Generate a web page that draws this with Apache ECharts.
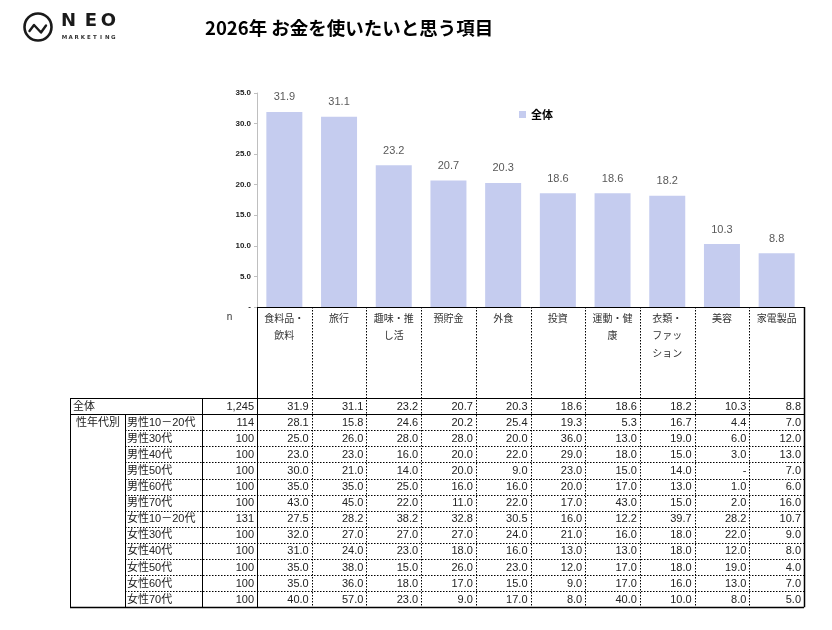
<!DOCTYPE html>
<html>
<head>
<meta charset="utf-8">
<script src="https://cdn.jsdelivr.net/npm/echarts@6/dist/echarts.min.js"></script>
<style>
html,body{margin:0;padding:0;background:#fff;}
#main{width:832px;height:630px;}
</style>
</head>
<body>
<div id="main"></div>
<script>
// ---- data ----
var titleText = '2026年 お金を使いたいと思う項目';
var seriesName = '全体';
var categories = ['食料品・飲料','旅行','趣味・推し活','預貯金','外食','投資','運動・健康','衣類・ファッション','美容','家電製品'];
var categoryLabels = ['食料品・\n飲料','旅行','趣味・推\nし活','預貯金','外食','投資','運動・健\n康','衣類・\nファッ\nション','美容','家電製品'];
var overallValues = [31.9,31.1,23.2,20.7,20.3,18.6,18.6,18.2,10.3,8.8];
var overallN = '1,245';
var yTicks = [0,5,10,15,20,25,30,35];
var groupLabel = '性年代別';
var rowLabels = ['男性10－20代','男性30代','男性40代','男性50代','男性60代','男性70代','女性10－20代','女性30代','女性40代','女性50代','女性60代','女性70代'];
var rowN = [114,100,100,100,100,100,131,100,100,100,100,100];
var m1020 = [28.1,15.8,24.6,20.2,25.4,19.3,5.3,16.7,4.4,7.0];
var m30 = [25.0,26.0,28.0,28.0,20.0,36.0,13.0,19.0,6.0,12.0];
var m40 = [23.0,23.0,16.0,20.0,22.0,29.0,18.0,15.0,3.0,13.0];
var m50 = [30.0,21.0,14.0,20.0,9.0,23.0,15.0,14.0,null,7.0];
var m60 = [35.0,35.0,25.0,16.0,16.0,20.0,17.0,13.0,1.0,6.0];
var m70 = [43.0,45.0,22.0,11.0,22.0,17.0,43.0,15.0,2.0,16.0];
var f1020 = [27.5,28.2,38.2,32.8,30.5,16.0,12.2,39.7,28.2,10.7];
var f30 = [32.0,27.0,27.0,27.0,24.0,21.0,16.0,18.0,22.0,9.0];
var f40 = [31.0,24.0,23.0,18.0,16.0,13.0,13.0,18.0,12.0,8.0];
var f50 = [35.0,38.0,15.0,26.0,23.0,12.0,17.0,18.0,19.0,4.0];
var f60 = [35.0,36.0,18.0,17.0,15.0,9.0,17.0,16.0,13.0,7.0];
var f70 = [40.0,57.0,23.0,9.0,17.0,8.0,40.0,10.0,8.0,5.0];
var rowValues = [m1020,m30,m40,m50,m60,m70,f1020,f30,f40,f50,f60,f70];

// ---- chart ----
var FONT = '"Liberation Sans", "Noto Sans CJK JP", sans-serif';
var JFONT = '"Noto Sans CJK JP", sans-serif';
var chart = echarts.init(document.getElementById('main'), null, {renderer:'canvas'});
function fmt(v){ return (v === null || v === undefined || v === 0) ? '-' : v.toFixed(1); }

chart.setOption({
  animation:false,
  backgroundColor:'#fff',
  title:{ text:titleText, left:200, top:14, textStyle:{ fontSize:18.5, fontWeight:'bold', color:'#000', fontFamily:JFONT } },
  legend:{ data:[seriesName], left:514, top:104, icon:'rect', itemWidth:7, itemHeight:7,
    textStyle:{ fontSize:11, fontWeight:'bold', color:'#000', fontFamily:JFONT } },
  grid:{ left:257, top:93, width:547, height:214, outerBoundsMode:'none' },
  xAxis:{ type:'category', data:categoryLabels,
    axisLine:{ lineStyle:{ color:'#000', width:1 } },
    axisTick:{ show:false },
    axisLabel:{ interval:0, margin:2, fontSize:10, lineHeight:17.5, color:'#333', verticalAlign:'top', fontFamily:JFONT, padding:[0,0,0,0] } },
  yAxis:{ type:'value', min:0, max:35, interval:5,
    axisLine:{ show:true, lineStyle:{ color:'#bfbfbf' } },
    axisTick:{ show:true, length:3, lineStyle:{ color:'#bfbfbf' } },
    splitLine:{ show:false },
    axisLabel:{ margin:6, fontSize:8, fontWeight:'bold', color:'#222', fontFamily:FONT, formatter:function(v){ return fmt(v); } } },
  series:[{ name:seriesName, type:'bar', data:overallValues, barWidth:36,
    itemStyle:{ color:'#C5CCEF' },
    label:{ show:true, position:'top', distance:9, fontSize:11, color:'#595959', fontFamily:FONT, formatter:function(p){ return p.value.toFixed(1); } } }]
});

// ---- table & logo (positions from the category axis) ----
var centers = categories.map(function(c,i){ return chart.convertToPixel({xAxisIndex:0}, i); });
var bw = centers[1] - centers[0];
var bounds = [centers[0] - bw/2];
for (var i=0;i<centers.length;i++) bounds.push(centers[i] + bw/2);
var xL = 70, xG = 125, xN = 202, xC = bounds[0], xR = bounds[bounds.length-1];
var yAxisY = chart.convertToPixel({yAxisIndex:0}, 0);
var y0 = 398, rh = 16.1, nRows = 1 + rowLabels.length, yB = y0 + nRows*rh;
function px(v){ return Math.round(v) + 0.5; }
var g = [];
function line(x1,y1,x2,y2,dotted,w){
  g.push({ type:'line', silent:true, shape:{ x1:x1, y1:y1, x2:x2, y2:y2 },
    style:{ stroke:'#000', lineWidth:w||1, lineDash: dotted ? [1.5,1.5] : null } });
}
function text(s,x,y,align,size,color){
  g.push({ type:'text', silent:true, x:x, y:y, style:{ text:s, fill:color||'#222', fontSize:size||11, fontFamily:FONT, align:align||'left', verticalAlign:'middle' } });
}
// horizontal lines
line(xL, px(y0), xR, px(y0), false);
line(xL, px(y0+rh), xR, px(y0+rh), false);
for (var r=2;r<nRows;r++) line(xG, px(y0+r*rh), xR, px(y0+r*rh), true);
line(xL, px(yB), xR, px(yB), false, 1.5);
// vertical lines
line(px(xL), y0, px(xL), yB, false);
line(px(xG), y0+rh, px(xG), yB, false);
line(px(xN), y0, px(xN), yB, false);
line(px(xC), yAxisY, px(xC), yB, false);
for (var b=1;b<bounds.length-1;b++) line(px(bounds[b]), yAxisY, px(bounds[b]), yB, true);
line(px(xR), yAxisY, px(xR), yB, false, 1.5);
// header
text('n', (xN+xC)/2, 317, 'center', 10, '#333');
// overall row
var cy = y0 + rh/2;
text(seriesName, xL+3, cy+0.5, 'left', 11);
text(overallN, xC-3, cy+0.5, 'right', 11);
for (var c=0;c<categories.length;c++) text(fmt(overallValues[c]), bounds[c+1]-3, cy+0.5, 'right', 11);
// group rows
text(groupLabel, xL+6, y0+rh*1.5+0.5, 'left', 11);
for (var r2=0;r2<rowLabels.length;r2++){
  var yy = y0 + (r2+1.5)*rh + 0.5;
  text(rowLabels[r2], xG+2, yy, 'left', 11);
  text(String(rowN[r2]), xC-3, yy, 'right', 11);
  for (var c2=0;c2<categories.length;c2++) text(fmt(rowValues[r2][c2]), bounds[c2+1]-3, yy, 'right', 11);
}
// logo
g.push({ type:'circle', silent:true, shape:{ cx:38, cy:27, r:13.5 }, style:{ fill:'none', stroke:'#1a1a1a', lineWidth:2.6 } });
g.push({ type:'polyline', silent:true, shape:{ points:[[29.5,31],[34,25],[41,32.5],[46,25.5]] }, style:{ fill:'none', stroke:'#1a1a1a', lineWidth:2.4, lineJoin:'round', lineCap:'round' } });
var neo = ['N','E','O'], neoX = [68.5, 91, 108.5];
for (var k=0;k<3;k++) g.push({ type:'text', silent:true, x:neoX[k], y:21.5, style:{ text:neo[k], fill:'#1a1a1a', fontSize:18, fontWeight:'bold', fontFamily:'"DejaVu Sans", sans-serif', align:'center', verticalAlign:'middle' } });
var mk = 'MARKETING';
for (var m=0;m<mk.length;m++) g.push({ type:'text', silent:true, x:64.5 + m*6.1, y:38, style:{ text:mk[m], fill:'#333', fontSize:5.5, fontWeight:'bold', fontFamily:'"DejaVu Sans", sans-serif', align:'center', verticalAlign:'middle' } });

chart.setOption({ graphic:g });
</script>
</body>
</html>
